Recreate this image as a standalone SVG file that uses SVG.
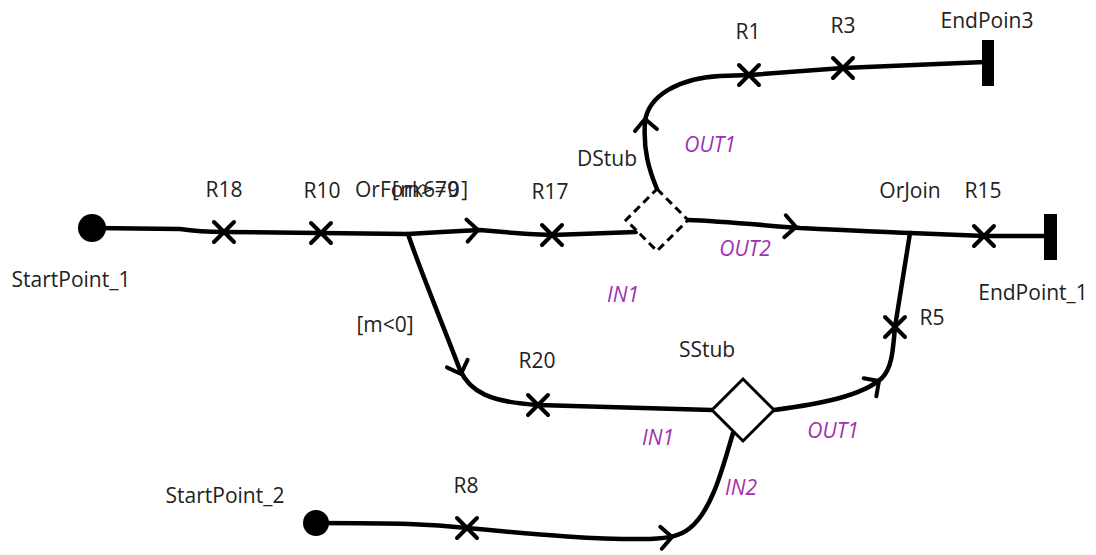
<svg xmlns="http://www.w3.org/2000/svg" width="1096" height="555" viewBox="0 0 1096 555">
<style>
.lbl{font-family:"Open Sans","Liberation Sans",sans-serif;font-size:21px;fill:#222;text-anchor:middle}
.port{font-family:"Open Sans","Liberation Sans",sans-serif;font-size:21px;font-style:italic;fill:#a030b0;text-anchor:middle}
.wire{fill:none;stroke:#000;stroke-width:4.5;stroke-linecap:round;stroke-linejoin:round}
.chev{fill:none;stroke:#000;stroke-width:4;stroke-linecap:round;stroke-linejoin:round}
.x{stroke:#000;stroke-width:4;stroke-linecap:round}
.bar{fill:#000}
</style>
<defs>
<path id="chev" d="M-11,-11 L0,0 L-11,11"/>
<g id="xm"><line x1="-10" y1="-10" x2="10" y2="10"/><line x1="-10" y1="10" x2="10" y2="-10"/></g>
</defs>
<rect width="1096" height="555" fill="#fff"/>
<g id="connectors">
<path class="wire" d="M92,228 L180,229 Q200,232 224,232 L320,233 L408,234 Q440,232 480,230 Q510,233 552,235 L636,232"/>
<path class="wire" d="M657,189 C649,170 643,150 645,122 C648,95 680,78 720,76 L750,75 L843,68 L985,62"/>
<path class="wire" d="M688,220 C720,221 760,225 800,228 C840,230 880,232 910,233 L985,236 L1050,236"/>
<path class="wire" d="M408,234 C420,270 445,330 460,370 C470,392 490,402 538,405 L712,410"/>
<path class="wire" d="M774,410 C820,404 862,396 882,378 C892,368 893,350 895,327 L910,233"/>
<path class="wire" d="M733,433 C722,470 712,510 690,528 C680,536 670,538 650,539 C600,540 540,535 467,528 C430,524 400,523 316,523"/>
<use href="#chev" class="chev" transform="translate(478,230) rotate(-3)"/>
<use href="#chev" class="chev" transform="translate(796,227) rotate(4)"/>
<use href="#chev" class="chev" transform="translate(645,119) rotate(-95)"/>
<use href="#chev" class="chev" transform="translate(461,374) rotate(70)"/>
<use href="#chev" class="chev" transform="translate(879,381) rotate(-35)"/>
<use href="#chev" class="chev" transform="translate(672,537) rotate(-4)"/>
</g>
<g id="StartPoint_1"><circle cx="92" cy="228" r="14" fill="#000"/><text class="lbl" x="71" y="287">StartPoint_1</text></g>
<g id="R18"><use href="#xm" class="x" transform="translate(224,232)"/><text class="lbl" x="224" y="197">R18</text></g>
<g id="R10"><use href="#xm" class="x" transform="translate(321,233)"/><text class="lbl" x="322" y="198">R10</text></g>
<g id="OrFork679"><text class="lbl" x="355" y="197" style="text-anchor:start">OrFork679</text><text class="lbl" x="392" y="197" style="text-anchor:start" textLength="76" lengthAdjust="spacing">[m&gt;=0]</text></g>
<g id="R17"><use href="#xm" class="x" transform="translate(552,235)"/><text class="lbl" x="550" y="199">R17</text></g>
<g id="DStub"><polygon points="657,189 688,220 657,251 626,220" fill="#fff" stroke="#000" stroke-width="3" stroke-dasharray="8,5"/><text class="lbl" x="607" y="166">DStub</text>
<text class="port" x="710" y="152">OUT1</text><text class="port" x="745" y="256">OUT2</text><text class="port" x="623" y="302">IN1</text></g>
<g id="R1"><use href="#xm" class="x" transform="translate(749,75)"/><text class="lbl" x="748" y="39">R1</text></g>
<g id="R3"><use href="#xm" class="x" transform="translate(843,68)"/><text class="lbl" x="843" y="33">R3</text></g>
<g id="EndPoin3"><rect class="bar" x="982" y="40" width="12" height="46"/><text class="lbl" x="987" y="28">EndPoin3</text></g>
<g id="OrJoin"><text class="lbl" x="910" y="198">OrJoin</text></g>
<g id="R15"><use href="#xm" class="x" transform="translate(984,236)"/><text class="lbl" x="983" y="198">R15</text></g>
<g id="EndPoint_1"><rect class="bar" x="1044" y="214" width="13" height="46"/><text class="lbl" x="1033" y="300">EndPoint_1</text></g>
<g id="R5"><use href="#xm" class="x" transform="translate(895,327)"/><text class="lbl" x="932" y="325">R5</text></g>
<g id="cond"><text class="lbl" x="385" y="332">[m&lt;0]</text></g>
<g id="R20"><use href="#xm" class="x" transform="translate(538,405)"/><text class="lbl" x="537" y="368">R20</text></g>
<g id="SStub"><polygon points="743,379 774,410 743,441 712,410" fill="#fff" stroke="#000" stroke-width="3"/><text class="lbl" x="707" y="357">SStub</text>
<text class="port" x="658" y="445">IN1</text><text class="port" x="833" y="438">OUT1</text><text class="port" x="741" y="495">IN2</text></g>
<g id="StartPoint_2"><circle cx="316" cy="523" r="13" fill="#000"/><text class="lbl" x="225" y="503">StartPoint_2</text></g>
<g id="R8"><use href="#xm" class="x" transform="translate(467,528)"/><text class="lbl" x="466" y="493">R8</text></g>
</svg>
